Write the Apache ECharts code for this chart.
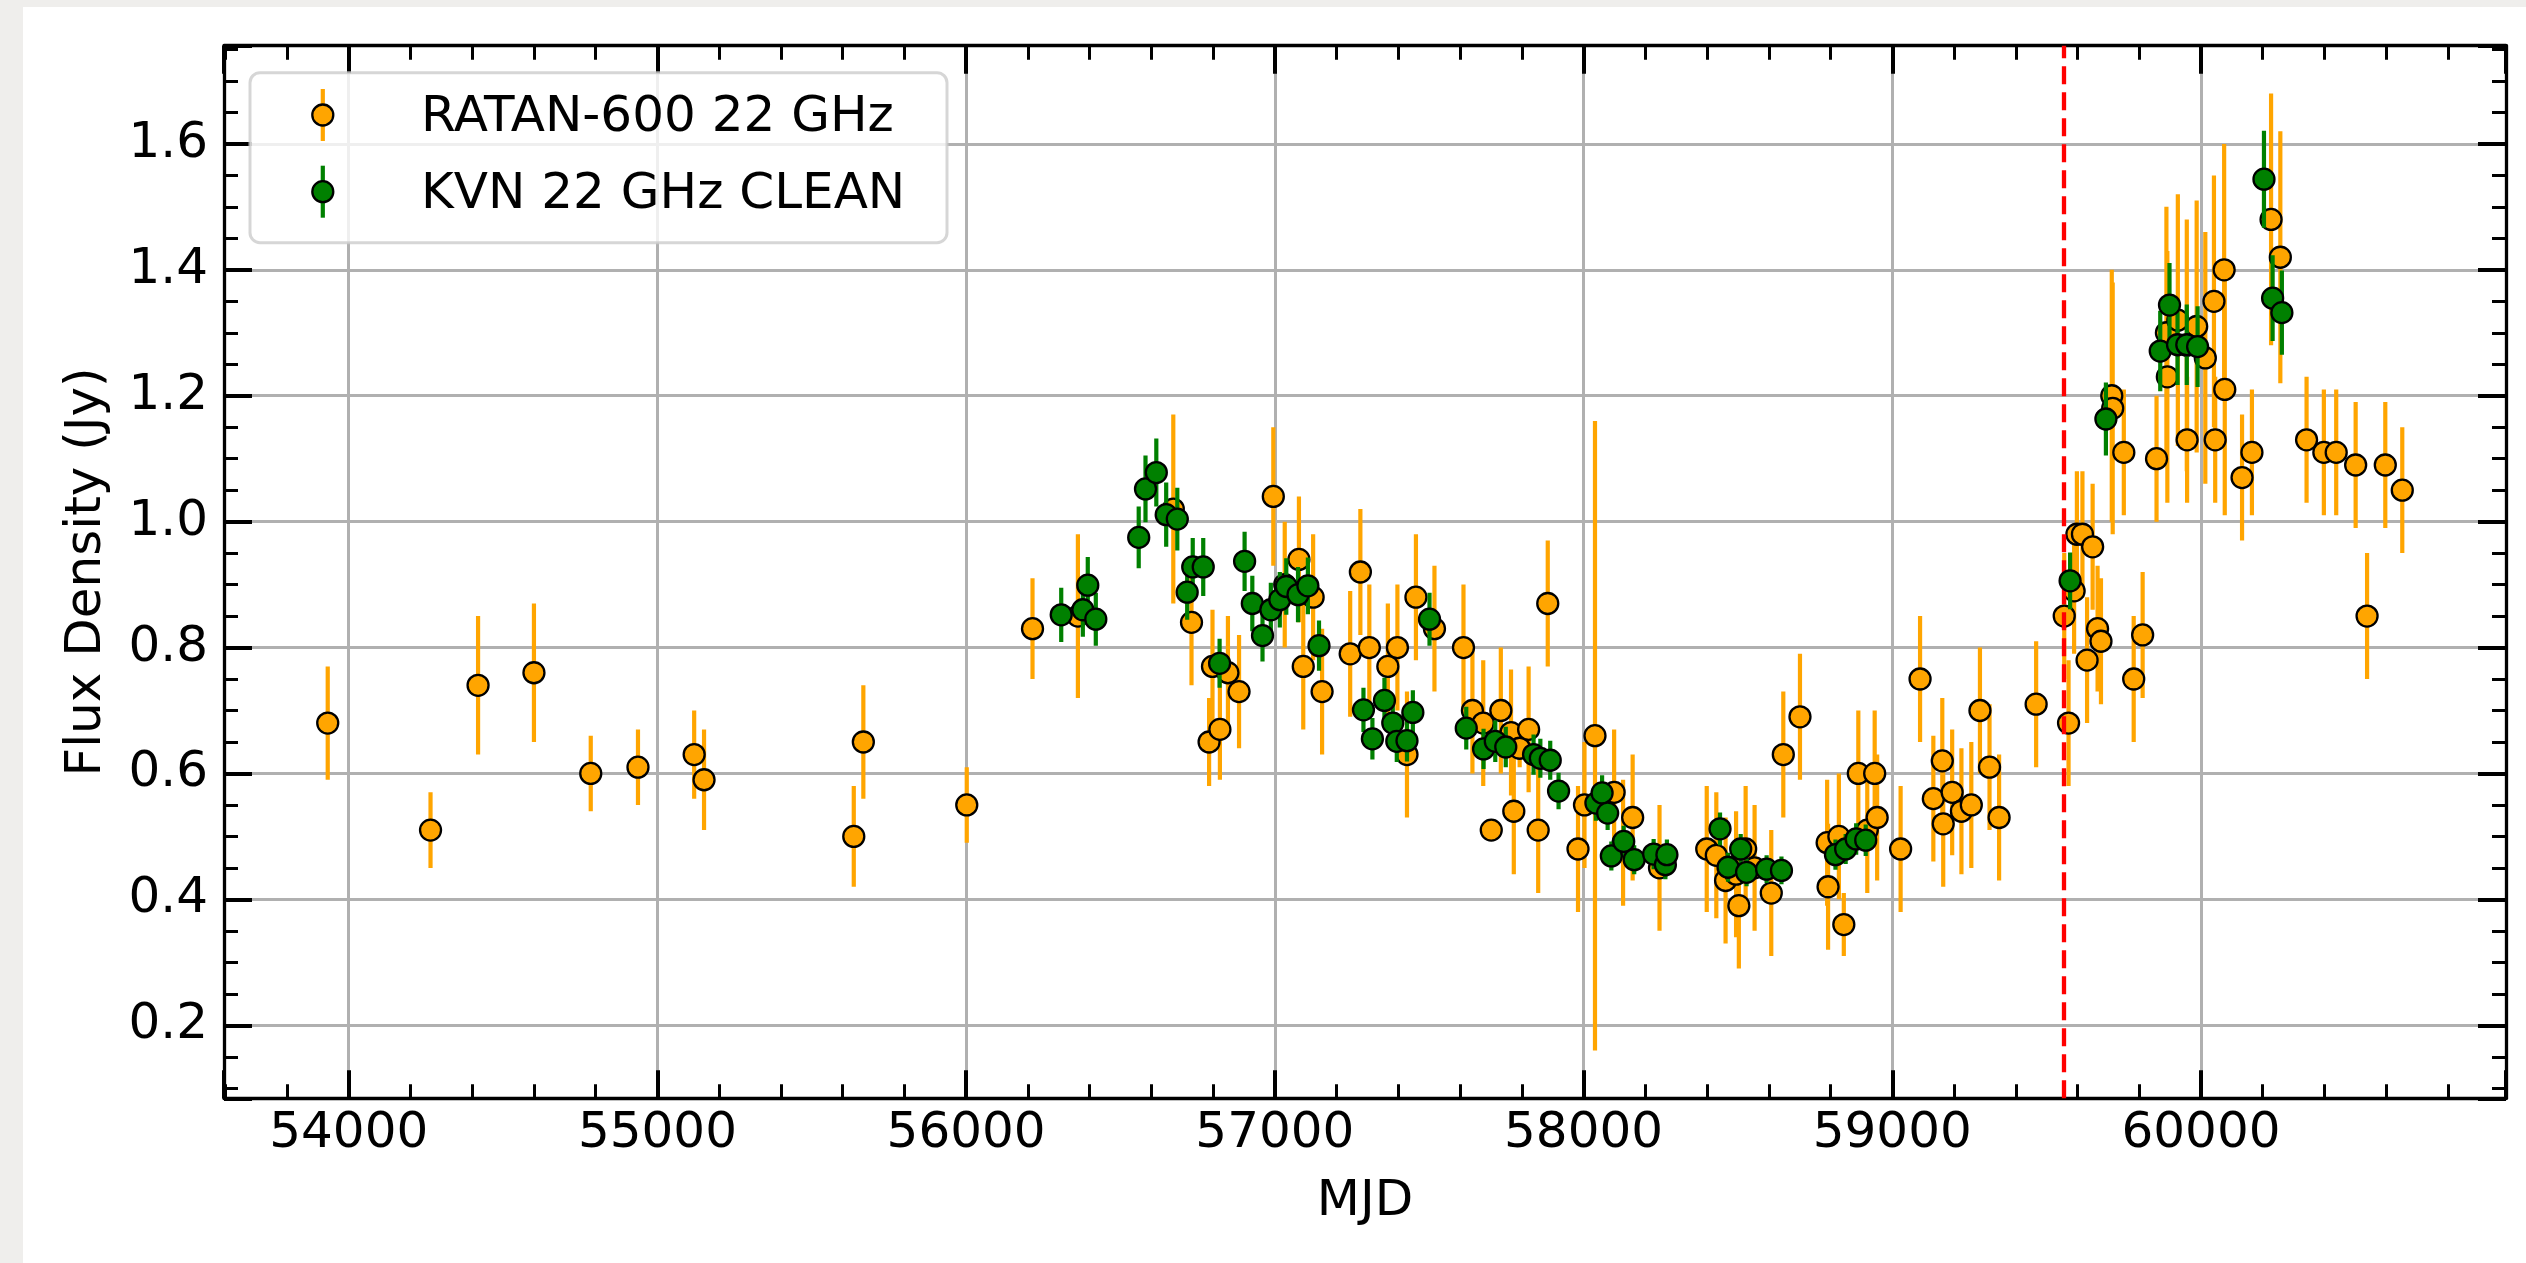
<!DOCTYPE html>
<html>
<head>
<meta charset="utf-8">
<title>RATAN-600 and KVN 22 GHz light curve</title>
<script src="https://cdn.jsdelivr.net/npm/echarts@6/dist/echarts.min.js"></script>
<style>
  html, body { margin: 0; padding: 0; width: 100%; height: 100%; overflow: hidden; background: #efeeec; }
  #chart { position: absolute; left: 23px; top: 7px; width: 2503px; height: 1256px; background: #ffffff; }
</style>
</head>
<body>
<div id="chart"></div>
<script>
// ---- data ----------------------------------------------------------------
const ratanName = 'RATAN-600 22 GHz';
const ratanMjd = [53932, 54265, 54419, 54600, 54784, 54937, 55119, 55151, 55636, 55667,
  56002, 56215, 56362, 56671, 56730, 56787, 56798, 56822, 56848, 56884,
  56995, 57032, 57078, 57092, 57124, 57153, 57244, 57277, 57306, 57366,
  57397, 57428, 57457, 57517, 57611, 57640, 57675, 57701, 57732, 57765,
  57774, 57793, 57822, 57853, 57884, 57982, 58003, 58037, 58099, 58128,
  58159, 58246, 58399, 58430, 58460, 58494, 58503, 58525, 58554, 58608,
  58647, 58701, 58789, 58792, 58827, 58843, 58890, 58919, 58943, 58951,
  59027, 59090, 59133, 59162, 59165, 59194, 59224, 59256, 59284, 59315,
  59346, 59466, 59557, 59571, 59589, 59598, 59616, 59631, 59649, 59665,
  59676, 59711, 59714, 59750, 59782, 59811, 59856, 59888, 59891, 59925,
  59954, 59955, 59986, 60014, 60042, 60046, 60075, 60077, 60133, 60165,
  60227, 60257, 60342, 60398, 60438, 60501, 60538, 60597, 60652];
const ratanFlux = [0.68, 0.51, 0.74, 0.76, 0.60, 0.61, 0.63, 0.59, 0.50, 0.65,
  0.55, 0.83, 0.85, 1.02, 0.84, 0.65, 0.77, 0.67, 0.76, 0.73,
  1.04, 0.90, 0.94, 0.77, 0.88, 0.73, 0.79, 0.92, 0.80, 0.77,
  0.80, 0.63, 0.88, 0.83, 0.80, 0.70, 0.68, 0.51, 0.70, 0.665,
  0.54, 0.64, 0.67, 0.51, 0.87, 0.48, 0.55, 0.66, 0.57, 0.49,
  0.53, 0.45, 0.48, 0.47, 0.43, 0.44, 0.39, 0.48, 0.45, 0.41,
  0.63, 0.69, 0.49, 0.42, 0.50, 0.36, 0.60, 0.51, 0.60, 0.53,
  0.48, 0.75, 0.56, 0.62, 0.52, 0.57, 0.54, 0.55, 0.70, 0.61,
  0.53, 0.71, 0.85, 0.68, 0.89, 0.98, 0.98, 0.78, 0.96, 0.83,
  0.81, 1.20, 1.18, 1.11, 0.75, 0.82, 1.10, 1.30, 1.23, 1.32,
  1.28, 1.13, 1.31, 1.26, 1.35, 1.13, 1.40, 1.21, 1.07, 1.11,
  1.48, 1.42, 1.13, 1.11, 1.11, 1.09, 0.85, 1.09, 1.05];
const ratanErr = [0.09, 0.06, 0.11, 0.11, 0.06, 0.06, 0.07, 0.08, 0.08, 0.09,
  0.06, 0.08, 0.13, 0.15, 0.10, 0.07, 0.09, 0.08, 0.09, 0.09,
  0.11, 0.10, 0.10, 0.10, 0.10, 0.10, 0.10, 0.10, 0.10, 0.10,
  0.10, 0.10, 0.10, 0.10, 0.10, 0.10, 0.10, 0.015, 0.10, 0.10,
  0.10, 0.03, 0.10, 0.10, 0.10, 0.10, 0.10, 0.50, 0.10, 0.10,
  0.10, 0.10, 0.10, 0.10, 0.10, 0.10, 0.10, 0.10, 0.10, 0.10,
  0.10, 0.10, 0.10, 0.10, 0.10, 0.05, 0.10, 0.10, 0.10, 0.10,
  0.10, 0.10, 0.10, 0.10, 0.10, 0.10, 0.10, 0.10, 0.10, 0.10,
  0.10, 0.10, 0.10, 0.10, 0.10, 0.10, 0.10, 0.10, 0.10, 0.10,
  0.10, 0.20, 0.20, 0.10, 0.10, 0.10, 0.10, 0.20, 0.20, 0.20,
  0.20, 0.10, 0.20, 0.20, 0.20, 0.10, 0.20, 0.20, 0.10, 0.10,
  0.20, 0.20, 0.10, 0.10, 0.10, 0.10, 0.10, 0.10, 0.10];

const kvnName = 'KVN 22 GHz CLEAN';
const kvnMjd = [56308, 56378, 56394, 56420, 56559, 56581, 56616, 56648, 56684, 56716,
  56734, 56768, 56821, 56902, 56927, 56960, 56987, 57016, 57037, 57075,
  57107, 57143, 57287, 57316, 57355, 57382, 57395, 57428, 57447, 57501,
  57620, 57676, 57714, 57748, 57838, 57860, 57892, 57919, 58040, 58060,
  58078, 58090, 58130, 58164, 58227, 58265, 58270, 58442, 58468, 58509,
  58528, 58593, 58641, 58816, 58849, 58883, 58914, 59576, 59692, 59868,
  59898, 59924, 59954, 59989, 60204, 60232, 60262];
const kvnFlux = [0.852, 0.860, 0.899, 0.845, 0.975, 1.052, 1.078, 1.011, 1.004, 0.888,
  0.928, 0.928, 0.775, 0.937, 0.870, 0.819, 0.860, 0.876, 0.897, 0.884,
  0.898, 0.803, 0.701, 0.655, 0.716, 0.680, 0.651, 0.652, 0.697, 0.845,
  0.672, 0.639, 0.651, 0.642, 0.630, 0.624, 0.621, 0.572, 0.553, 0.569,
  0.537, 0.469, 0.492, 0.463, 0.472, 0.455, 0.471, 0.512, 0.451, 0.480,
  0.443, 0.448, 0.446, 0.471, 0.480, 0.496, 0.494, 0.906, 1.163, 1.271,
  1.344, 1.281, 1.281, 1.278, 1.544, 1.355, 1.332];
const kvnErr = [0.043, 0.043, 0.045, 0.042, 0.049, 0.053, 0.054, 0.051, 0.050, 0.044,
  0.046, 0.046, 0.039, 0.047, 0.044, 0.041, 0.043, 0.044, 0.045, 0.044,
  0.045, 0.040, 0.035, 0.033, 0.036, 0.034, 0.033, 0.033, 0.035, 0.042,
  0.034, 0.032, 0.033, 0.032, 0.032, 0.031, 0.031, 0.029, 0.028, 0.028,
  0.027, 0.023, 0.025, 0.023, 0.024, 0.023, 0.024, 0.026, 0.023, 0.024,
  0.022, 0.022, 0.022, 0.024, 0.024, 0.025, 0.025, 0.045, 0.058, 0.064,
  0.067, 0.064, 0.064, 0.064, 0.077, 0.068, 0.067];

// vertical marker epoch
const eventMjd = 59557;

// axis extents and labels
const mjdRange = [53596, 60988];
const fluxRange = [0.084, 1.756];
const xAxisTitle = 'MJD';
const yAxisTitle = 'Flux Density (Jy)';

// ---- styling ---------------------------------------------------------------
const FONT = 'DejaVu Sans';
const ORANGE = '#ffa500';
const GREEN = '#008000';
const GRID_COLOR = '#b0b0b0';

const chart = echarts.init(document.getElementById('chart'), null, { renderer: 'canvas' });

function pairs(xs, ys) { return xs.map((x, i) => [x, ys[i]]); }
function triples(xs, ys, es) { return xs.map((x, i) => [x, ys[i], es[i]]); }

function errorBars(name, xs, ys, es, color, z) {
  return {
    type: 'custom',
    name: name + ' error',
    z: z,
    silent: true,
    clip: true,
    data: triples(xs, ys, es),
    encode: { x: 0, y: 1 },
    renderItem: function (params, api) {
      const x = api.value(0), y = api.value(1), e = api.value(2);
      const hi = api.coord([x, y + e]);
      const lo = api.coord([x, y - e]);
      return {
        type: 'line',
        shape: { x1: hi[0], y1: hi[1], x2: lo[0], y2: lo[1] },
        style: { stroke: color, lineWidth: 4.2 }
      };
    }
  };
}

function points(name, xs, ys, color, z) {
  return {
    type: 'scatter',
    name: name,
    z: z,
    silent: true,
    symbol: 'circle',
    symbolSize: 21,
    data: pairs(xs, ys),
    itemStyle: { color: color, borderColor: '#000', borderWidth: 2.3, opacity: 1 }
  };
}

function frameAxis(extra) {
  return Object.assign({
    type: 'value',
    axisLine: { show: true, onZero: false, lineStyle: { color: '#000', width: 3.3 } },
    axisTick: { show: true, inside: true, length: 28, lineStyle: { color: '#000', width: 4 } },
    minorTick: { show: true, length: 14, lineStyle: { color: '#000', width: 3 } },
    splitLine: { show: false },
    axisLabel: { show: false }
  }, extra);
}

const tickLabel = {
  show: true, fontFamily: FONT, fontSize: 50, color: '#000',
  showMinLabel: false, showMaxLabel: false
};

// legend drawn as a framed box with error-bar glyphs
const legendEntries = [
  { name: ratanName, color: ORANGE, cy: 108 },
  { name: kvnName, color: GREEN, cy: 184.7 }
];
const legendEls = [{
  type: 'rect', z: 100,
  shape: { x: 227, y: 65.7, width: 697, height: 170, r: 10 },
  style: { fill: 'rgba(255,255,255,0.8)', stroke: 'rgba(204,204,204,0.8)', lineWidth: 3 }
}];
legendEntries.forEach(function (e) {
  legendEls.push({
    type: 'line', z: 101,
    shape: { x1: 299.8, y1: e.cy - 26, x2: 299.8, y2: e.cy + 26 },
    style: { stroke: e.color, lineWidth: 4.2 }
  });
  legendEls.push({
    type: 'circle', z: 102,
    shape: { cx: 299.8, cy: e.cy, r: 10.5 },
    style: { fill: e.color, stroke: '#000', lineWidth: 2.3 }
  });
  legendEls.push({
    type: 'text', z: 102,
    style: {
      text: e.name, x: 398, y: e.cy + 3, fill: '#000',
      font: '50px "' + FONT + '"', align: 'left', verticalAlign: 'middle',
      textAlign: 'left', textVerticalAlign: 'middle'
    }
  });
});

const option = {
  animation: false,
  backgroundColor: '#ffffff',
  textStyle: { fontFamily: FONT },
  grid: { left: 201, right: 20, top: 38.7, bottom: 164.7, containLabel: false, outerBoundsMode: 'none' },
  xAxis: [
    frameAxis({
      position: 'bottom', min: mjdRange[0], max: mjdRange[1], splitNumber: 7,
      minorTick: { show: true, splitNumber: 5, length: 14, lineStyle: { color: '#000', width: 3 } },
      splitLine: { show: true, lineStyle: { color: GRID_COLOR, width: 3 } },
      axisLabel: Object.assign({}, tickLabel, { margin: 11, formatter: function (v) { return String(v); } }),
      name: xAxisTitle, nameLocation: 'middle', nameGap: 79,
      nameTextStyle: { fontFamily: FONT, fontSize: 50, color: '#000' }
    }),
    frameAxis({
      position: 'top', min: mjdRange[0], max: mjdRange[1], splitNumber: 7,
      minorTick: { show: true, splitNumber: 5, length: 14, lineStyle: { color: '#000', width: 3 } }
    })
  ],
  yAxis: [
    frameAxis({
      position: 'left', min: fluxRange[0], max: fluxRange[1], splitNumber: 8,
      minorTick: { show: true, splitNumber: 4, length: 14, lineStyle: { color: '#000', width: 3 } },
      splitLine: { show: true, lineStyle: { color: GRID_COLOR, width: 3 } },
      axisLabel: Object.assign({}, tickLabel, { margin: 16, formatter: function (v) { return v.toFixed(1); } }),
      name: yAxisTitle, nameLocation: 'middle', nameGap: 112, nameRotate: 90,
      nameTextStyle: { fontFamily: FONT, fontSize: 50, color: '#000' }
    }),
    frameAxis({
      position: 'right', min: fluxRange[0], max: fluxRange[1], splitNumber: 8,
      minorTick: { show: true, splitNumber: 4, length: 14, lineStyle: { color: '#000', width: 3 } }
    })
  ],
  series: [
    errorBars(ratanName, ratanMjd, ratanFlux, ratanErr, ORANGE, 2),
    points(ratanName, ratanMjd, ratanFlux, ORANGE, 3),
    errorBars(kvnName, kvnMjd, kvnFlux, kvnErr, GREEN, 4),
    points(kvnName, kvnMjd, kvnFlux, GREEN, 5),
    {
      type: 'line', name: 'epoch', z: 8, data: [],
      markLine: {
        silent: true, symbol: ['none', 'none'], label: { show: false },
        lineStyle: { color: '#ff0000', type: [18, 8], width: 4.3 },
        data: [{ xAxis: eventMjd }]
      }
    }
  ],
  graphic: { elements: legendEls }
};

chart.setOption(option);
</script>
</body>
</html>
